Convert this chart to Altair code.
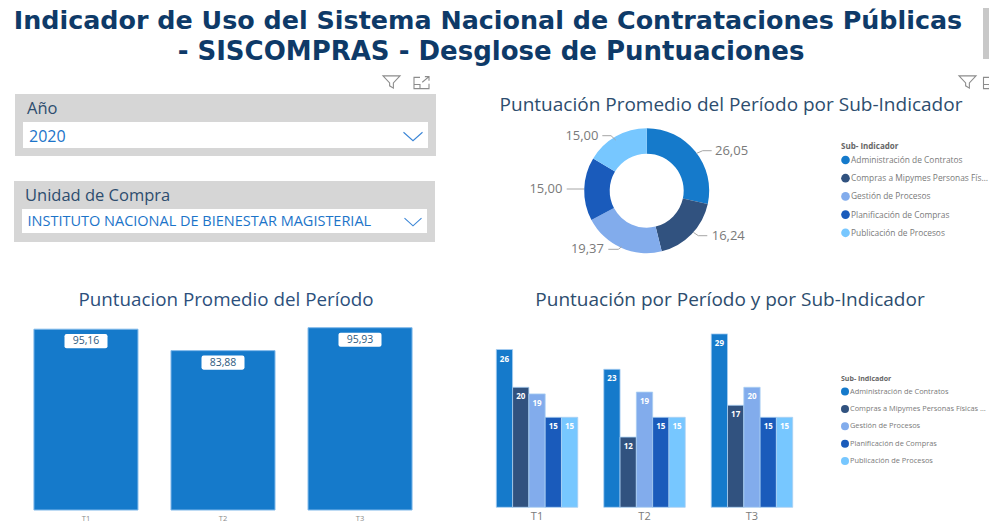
import altair as alt
import pandas as pd

# ---- data -------------------------------------------------------------
periods = ["T1", "T2", "T3"]
period_scores = [95.16, 83.88, 95.93]
subindicators = [
    "Administración de Contratos",
    "Compras a Mipymes Personas Físicas y Jurídicas",
    "Gestión de Procesos",
    "Planificación de Compras",
    "Publicación de Procesos",
]
sub_avg = [26.05, 16.24, 19.37, 15.00, 15.00]
admin = [26.3, 23.0, 28.9]
compras = [20.0, 11.7, 17.0]
gestion = [18.9, 19.2, 20.0]
planif = [15.0, 15.0, 15.0]
public = [15.0, 15.0, 15.0]
colors = ["#157ACB", "#31527F", "#82ACEC", "#1A5BBB", "#77C7FF"]

NAVY = "#0E3A68"
HEAD = "#2D4D6E"
GREY = "#7A7A7A"
BLUE = "#1C74C9"
FONT = "Open Sans"

comma = lambda v, d=2: f"{v:.{d}f}".replace(".", ",")

df_period = pd.DataFrame({"Periodo": periods, "Puntos": period_scores,
                          "Etiqueta": [comma(v) for v in period_scores]})
df_sub = pd.DataFrame({"Sub": subindicators, "Prom": sub_avg,
                       "Orden": list(range(5))})
rows = []
for name, series in zip(subindicators, [admin, compras, gestion, planif, public]):
    for p, v in zip(periods, series):
        rows.append({"Periodo": p, "Sub": name, "Valor": v, "Etq": f"{v:.0f}"})
df_group = pd.DataFrame(rows)
one = pd.DataFrame({"k": [0]})

W, H = 981, 502


def X(v):
    return alt.value(v - 8)


def Y(v):
    return alt.value(v - 8)


def ann(text, x, y, size, color, align="center", font=FONT, weight="normal"):
    return alt.Chart(one).mark_text(text=text, fontSize=size, color=color, align=align,
                                    baseline="middle", font=font, fontWeight=weight
                                    ).encode(x=X(x), y=Y(y))


def box(x0, x1, y0, y1, fill):
    return alt.Chart(one).mark_rect(color=fill).encode(x=X(x0), x2=X(x1), y=Y(y0), y2=Y(y1))


def seg(x0, y0, x1, y1, color="#A6A6A6"):
    return alt.Chart(one).mark_rule(color=color, strokeWidth=1).encode(
        x=X(x0), x2=X(x1), y=Y(y0), y2=Y(y1))


def glyph(path, x, y, width, color, sw=1.1):
    return alt.Chart(one).mark_point(shape=path, size=width * width, filled=False,
                                     stroke=color, strokeWidth=sw, opacity=1
                                     ).encode(x=X(x), y=Y(y))


CHEVRON = "M-1,-0.45 L0,0.45 L1,-0.45"
FUNNEL = "M-1,-0.72 L1,-0.72 L0.22,0.1 L0.22,0.72 L-0.22,0.45 L-0.22,0.1 Z"
FOCUS = "M-0.2,-0.75 L-1,-0.75 L-1,0.75 L1,0.75 L1,0.1 M-1,0.2 L-0.2,0.2 L-0.2,0.75 M0.1,-0.1 L1,-0.85 M0.45,-0.85 L1,-0.85 L1,-0.3"
PILL = ("M-0.9,-0.33 L0.9,-0.33 Q1,-0.33 1,-0.23 L1,0.23 Q1,0.33 0.9,0.33 "
        "L-0.9,0.33 Q-1,0.33 -1,0.23 L-1,-0.23 Q-1,-0.33 -0.9,-0.33 Z")

layers = []

# heading
layers += [
    ann("Indicador de Uso del Sistema Nacional de Contrataciones Públicas", 488, 21, 25.4, NAVY,
        font="DejaVu Sans", weight="bold"),
    ann("- SISCOMPRAS - Desglose de Puntuaciones", 491, 52, 26, NAVY,
        font="DejaVu Sans", weight="bold"),
]

# slicers
layers += [
    box(15, 436, 94, 156, "#D6D6D6"),
    box(23, 428, 122, 148, "#FFFFFF"),
    box(14, 435, 181, 242, "#D6D6D6"),
    box(22, 427, 209, 233, "#FFFFFF"),
    ann("Año", 27, 108.5, 16.5, HEAD, "left"),
    ann("2020", 29, 137, 16, BLUE, "left"),
    ann("Unidad de Compra", 25, 196, 16.5, HEAD, "left"),
    ann("INSTITUTO NACIONAL DE BIENESTAR MAGISTERIAL", 27.5, 222, 14.5, BLUE, "left"),
    glyph(CHEVRON, 413, 136.5, 19, "#3A85D6"),
    glyph(CHEVRON, 413, 222, 17, "#3A85D6"),
    glyph(FUNNEL, 391.5, 82, 17, "#8C8C8C"),
    glyph(FOCUS, 421.5, 83, 15, "#8C8C8C"),
    glyph(FUNNEL, 967.5, 82, 17, "#8C8C8C"),
    glyph(FOCUS, 991, 83, 15, "#8C8C8C"),
    box(983, 989, 4, 59, "#C8C8C8"),
]

# section titles
layers += [
    ann("Puntuación Promedio del Período por Sub-Indicador", 731, 104.5, 19, HEAD),
    ann("Puntuacion Promedio del Período", 226, 300, 18.8, "#2C4F7C"),
    ann("Puntuación por Período y por Sub-Indicador", 730, 300, 19, HEAD),
]

# donut
donut_color = alt.Color(
    "Sub:N",
    sort=subindicators,
    scale=alt.Scale(domain=subindicators, range=colors),
    legend=alt.Legend(
        orient="none", legendX=833, legendY=134.5, title="Sub- Indicador", titleFont=FONT,
        titleFontSize=8, titleFontWeight="bold", titleColor="#666666", titlePadding=5,
        labelFont=FONT, labelFontSize=8.4, labelColor=GREY, labelLimit=137, labelOffset=1,
        symbolType="circle", symbolSize=75, symbolStrokeWidth=0, rowPadding=9.2,
        columns=1, padding=0,
    ),
)
layers.append(
    alt.Chart(df_sub).mark_arc(outerRadius=62.5, innerRadius=37, stroke=None).encode(
        theta=alt.Theta("Prom:Q", stack=True, scale=alt.Scale(domain=[0, sum(sub_avg)], range=[0, 6.28319])),
        order=alt.Order("Orden:Q"),
        color=donut_color,
        x=X(646.7),
        y=Y(190.7),
    )
)
layers += [
    seg(696.7, 153.3, 702.7, 150.7), seg(702.7, 150.7, 711.7, 150.7),
    seg(693.3, 232.3, 698.3, 235.7), seg(698.3, 235.7, 707.3, 235.7),
    seg(621.7, 246.7, 618.3, 249.3), seg(618.3, 249.3, 608.3, 249.3),
    seg(584, 189, 566.7, 189),
    seg(615.7, 140, 611, 135.7), seg(611, 135.7, 602.3, 135.7),
    ann(comma(sub_avg[0]), 715, 151.2, 13, GREY, "left"),
    ann(comma(sub_avg[1]), 711.7, 235.5, 13, GREY, "left"),
    ann(comma(sub_avg[2]), 604, 249, 13, GREY, "right"),
    ann(comma(sub_avg[3]), 562.5, 188.5, 13, GREY, "right"),
    ann(comma(sub_avg[4]), 598.5, 135.5, 13, GREY, "right"),
]

# left bars
lx = alt.X("Periodo:N", sort=periods, title=None,
           scale=alt.Scale(domain=periods, range=[9.5, 420.5], paddingInner=0.241, paddingOuter=0.12),
           axis=alt.Axis(orient="bottom", domain=False, ticks=False, labelFont=FONT, labelFontSize=7.5,
                         labelColor="#8A8A8A", labelPadding=4, labelAngle=0, grid=False))
lx_plain = alt.X("Periodo:N", sort=periods, title=None,
                 scale=alt.Scale(domain=periods, range=[9.5, 420.5], paddingInner=0.241, paddingOuter=0.12),
                 axis=None)
ly = alt.Y("Puntos:Q", title=None, scale=alt.Scale(domain=[0, 100], range=[H, H - 190]), axis=None)
layers += [
    alt.Chart(df_period).mark_bar(color="#157ACB", stroke="#7FB8EA", strokeWidth=1).encode(x=lx, y=ly),
    alt.Chart(df_period).mark_point(shape=PILL, size=43 * 43, filled=True, fill="#FFFFFF", stroke=None,
                                    opacity=1, yOffset=12).encode(x=lx_plain, y=ly),
    alt.Chart(df_period).mark_text(font=FONT, fontSize=10.5, color="#2D5A80", yOffset=12,
                                   baseline="middle").encode(x=lx_plain, y=ly, text="Etiqueta:N"),
]


# grouped bars
def rx(axis):
    return alt.X("Periodo:N", sort=periods, title=None,
                 scale=alt.Scale(domain=periods, range=[475.3, 797.7], paddingInner=0.242, paddingOuter=0.121),
                 axis=axis)


rx_axis = alt.Axis(orient="bottom", domain=False, ticks=False, labelFont=FONT, labelFontSize=11,
                   labelColor=GREY, labelPadding=3, labelAngle=0, grid=False, offset=-3)
ry = alt.Y("Valor:Q", title=None, scale=alt.Scale(domain=[0, 30], range=[499.3, 319.3]), axis=None)
xoff = alt.XOffset("Sub:N", sort=subindicators, scale=alt.Scale(domain=subindicators))
group_color = alt.Color(
    "Sub:N",
    sort=subindicators,
    scale=alt.Scale(domain=subindicators, range=colors),
    legend=alt.Legend(
        orient="none", legendX=833, legendY=367, title="Sub- Indicador", titleFont=FONT,
        titleFontSize=7, titleFontWeight="bold", titleColor="#666666", titlePadding=5.5,
        labelFont=FONT, labelFontSize=7.4, labelColor=GREY, labelLimit=137, labelOffset=1,
        symbolType="circle", symbolSize=64, symbolStrokeWidth=0, rowPadding=9.4,
        columns=1, padding=0,
    ),
)
layers += [
    alt.Chart(df_group).mark_bar(stroke="#A9CFF2", strokeWidth=0.8).encode(
        x=rx(rx_axis), xOffset=xoff, y=ry, color=group_color),
    alt.Chart(df_group).mark_text(font=FONT, fontSize=8, fontWeight="bold", color="#FFFFFF",
                                  yOffset=10, baseline="middle").encode(
        x=rx(None), xOffset=xoff, y=ry, text="Etq:N"),
]

chart = alt.layer(*layers).resolve_scale(
    x="independent", y="independent", color="independent", theta="independent", xOffset="independent"
).properties(
    width=W, height=H,
    autosize=alt.AutoSizeParams(type="none"),
    padding={"left": 0, "top": 0, "right": 0, "bottom": 14},
    background="#FFFFFF",
).configure_view(stroke=None)

chart.save("out.html", embed_options={"renderer": "svg", "actions": False})
